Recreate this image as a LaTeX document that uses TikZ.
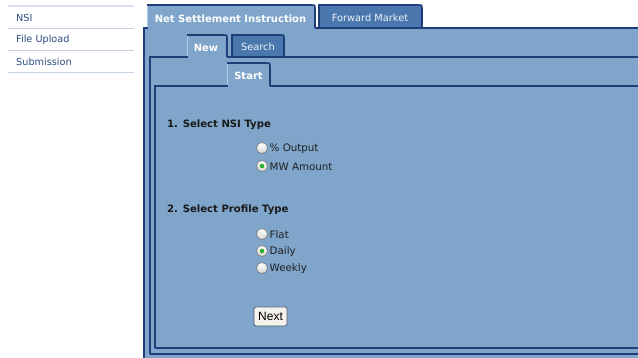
\documentclass[tikz,border=0pt]{standalone}
\usepackage{fontspec}
\setmainfont{DejaVu Sans}
\newfontfamily\btnfont{Liberation Sans}
\definecolor{panel}{HTML}{7FA5CB}
\definecolor{navy}{HTML}{1F3D79}
\definecolor{tabdark}{HTML}{4A77AE}
\definecolor{tablight}{HTML}{B3CAE4}
\definecolor{sidetext}{HTML}{2B4C7E}
\definecolor{sideline}{HTML}{C3D2E3}
\definecolor{sidetop}{HTML}{D9DDEC}
\definecolor{radiob}{HTML}{7E7E7E}
\definecolor{dotgreen}{HTML}{2DB02D}
\definecolor{btnfill}{HTML}{F5F3EC}
\definecolor{btnline}{HTML}{4E5D70}
\tikzset{
  border/.style={draw=navy, line width=2pt},
  sidelabel/.style={anchor=west, inner sep=0pt, text=sidetext, font=\fontsize{9.7}{11}\selectfont},
  tabon/.style={inner sep=0pt, text=white, font=\bfseries\fontsize{10}{11}\selectfont},
  taboff/.style={inner sep=0pt, text=white!92!tabdark, font=\fontsize{9.8}{11}\selectfont},
  heading/.style={anchor=west, inner sep=0pt, text=black!90, font=\bfseries\fontsize{10.1}{11}\selectfont},
  option/.style={anchor=west, inner sep=0pt, text=black!88, font=\fontsize{10.3}{11}\selectfont},
  radio/.style={circle, draw=radiob, line width=0.7pt, inner sep=0pt, minimum size=11pt, top color=white, bottom color=black!16},
  btn/.style={draw=btnline, line width=0.8pt, fill=btnfill, rounded corners=1.5pt, inner sep=0pt, minimum width=33pt, minimum height=19pt, font=\btnfont\fontsize{12}{13}\selectfont}
}
\begin{document}
\begin{tikzpicture}[x=1pt,y=-1pt]
\useasboundingbox (0,0) rectangle (638,358);
\fill[white] (0,0) rectangle (638,358);
% sidebar
\draw[sidetop, line width=2pt] (8,6) -- (134,6);
\draw[sideline, line width=1pt] (8,28.5) -- (134,28.5);
\draw[sideline, line width=1pt] (8,50.5) -- (134,50.5);
\draw[sideline, line width=1pt] (8,72.5) -- (134,72.5);
\node[sidelabel] (nsi) at (16,17.5) {NSI};
\node[sidelabel] (upload) at (16,39.5) {File Upload};
\node[sidelabel] (submission) at (16,61.5) {Submission};
% ---------- outer panel ----------
\fill[panel] (144,28) rectangle (640,362);
% Forward Market tab (inactive)
\fill[tabdark] (319,5) -- (419,5) .. controls (422,5) .. (422,8) -- (422,28) -- (319,28) -- cycle;
\draw[border, line width=1.6pt] (319,28) -- (319,5) -- (419,5) .. controls (422,5) .. (422,8) -- (422,28);
\node[taboff] (fwd) at (370,17.5) {Forward Market};
% NSI tab (active)
\fill[panel] (147,5) -- (312,5) .. controls (315,5) .. (315,8) -- (315,29) -- (147,29) -- cycle;
\draw[border, line width=1.6pt] (147,5) -- (312,5) .. controls (315,5) .. (315,8) -- (315,28);
\draw[tablight, line width=1.2pt] (147.5,6) -- (147.5,28);
\node[tabon] (nsitab) at (230.5,18.5) {Net Settlement Instruction};
\draw[border] (144,362) -- (144,28) -- (147.5,28);
\draw[border] (315,28) -- (640,28);
\draw[border] (144,360) -- (640,360);
% ---------- second panel ----------
\fill[tabdark] (232,35) -- (281,35) .. controls (284,35) .. (284,38) -- (284,57) -- (232,57) -- cycle;
\draw[border, line width=1.6pt] (232,57) -- (232,35) -- (281,35) .. controls (284,35) .. (284,38) -- (284,57);
\node[taboff] (search) at (258,46.5) {Search};
\draw[border, line width=1.6pt] (187,35) -- (224,35) .. controls (227,35) .. (227,38) -- (227,57);
\draw[tablight, line width=1.2pt] (187.5,36) -- (187.5,57);
\node[tabon] (new) at (206,47.5) {New};
\draw[border] (150,354) -- (150,57) -- (187.5,57);
\draw[border] (227,57) -- (640,57);
\draw[border] (150,354) -- (640,354);
% ---------- third panel ----------
\draw[border, line width=1.6pt] (227,63) -- (267,63) .. controls (270,63) .. (270,66) -- (270,86);
\draw[tablight, line width=1.2pt] (227.5,64) -- (227.5,86);
\node[tabon] (start) at (248.5,75.5) {Start};
\draw[border] (155,348) -- (155,86) -- (227.5,86);
\draw[border] (270,86) -- (640,86);
\draw[border] (155,348) -- (640,348);
% ---------- form ----------
\node[heading] (h1) at (167,125) {1. Select NSI Type};
\node[radio] (r1) at (262,148) {};
\node[option] (o1) at (269.5,148.5) {\% Output};
\node[radio] (r2) at (262,166) {};
\fill[dotgreen] (r2.center) circle (2.3pt);
\node[option] (o2) at (269.5,166.5) {MW Amount};
\node[heading] (h2) at (167,210) {2. Select Profile Type};
\node[radio] (r3) at (262,234) {};
\node[option] (o3) at (269.5,234.5) {Flat};
\node[radio] (r4) at (262,251) {};
\fill[dotgreen] (r4.center) circle (2.3pt);
\node[option] (o4) at (269.5,251.5) {Daily};
\node[radio] (r5) at (262,268) {};
\node[option] (o5) at (269.5,268.5) {Weekly};
\node[btn] (next) at (270.5,316.5) {Next};
\end{tikzpicture}
\end{document}
